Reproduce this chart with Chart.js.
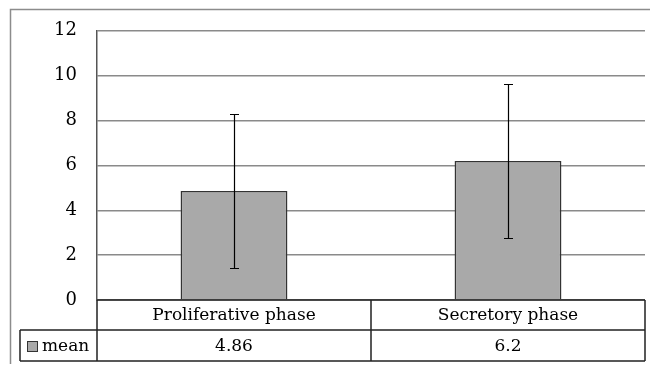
<!DOCTYPE html>
<html>
<head>
<meta charset="utf-8">
<script src="https://cdn.jsdelivr.net/npm/chart.js@4"></script>
<style>
  html, body { margin: 0; padding: 0; background: #fff; }
  #wrap { width: 650px; height: 367px; position: relative; }
</style>
</head>
<body>
<div id="wrap"><canvas id="chartMean" width="650" height="367"></canvas></div>
<script>
// valores
const categories = ['Proliferative phase', 'Secretory phase'];
const seriesName = 'mean';
const meanValues = [4.86, 6.2];
const errorValues = [3.45, 3.45]; // barras de erro simétricas (±)
const yMin = 0;
const yMax = 12;
const yStep = 2;

const FONT = "'DejaVu Serif', serif";

// moldura, barras de erro e tabela de dados no estilo Excel
const extrasPlugin = {
  id: 'extras',
  afterDatasetsDraw(chart) {
    const { ctx, scales } = chart;
    const x = scales.x;
    const y = scales.y;

    // barras de erro
    ctx.save();
    ctx.strokeStyle = '#000';
    ctx.lineWidth = 1.2;
    meanValues.forEach((v, i) => {
      const cx = Math.round(x.getPixelForValue(i)) + 0.5;
      const top = Math.round(y.getPixelForValue(v + errorValues[i])) + 0.5;
      const bot = Math.round(y.getPixelForValue(v - errorValues[i])) + 0.5;
      ctx.beginPath();
      ctx.moveTo(cx, top);
      ctx.lineTo(cx, bot);
      ctx.moveTo(cx - 4.5, top);
      ctx.lineTo(cx + 4.5, top);
      ctx.moveTo(cx - 4.5, bot);
      ctx.lineTo(cx + 4.5, bot);
      ctx.stroke();
    });
    ctx.restore();
  },
  afterDraw(chart) {
    const { ctx, chartArea, scales } = chart;
    const x = scales.x;
    const left = chartArea.left;
    const right = chartArea.right;
    const base = chartArea.bottom;
    const row1 = base + 30;
    const row2 = base + 61;
    const keyLeft = 20;
    const mid = (x.getPixelForValue(0) + x.getPixelForValue(1)) / 2;

    ctx.save();
    // moldura externa
    ctx.strokeStyle = '#8c8c8c';
    ctx.lineWidth = 1.5;
    ctx.beginPath();
    ctx.moveTo(10.5, 364);
    ctx.lineTo(10.5, 9.5);
    ctx.lineTo(650, 9.5);
    ctx.stroke();

    // linhas da tabela
    ctx.strokeStyle = '#222';
    ctx.lineWidth = 1.5;
    ctx.beginPath();
    ctx.moveTo(left, base);
    ctx.lineTo(right, base);
    ctx.moveTo(keyLeft, row1);
    ctx.lineTo(right, row1);
    ctx.moveTo(keyLeft, row2);
    ctx.lineTo(right, row2);
    ctx.moveTo(keyLeft, row1);
    ctx.lineTo(keyLeft, row2);
    ctx.moveTo(left, base);
    ctx.lineTo(left, row2);
    ctx.moveTo(mid, base);
    ctx.lineTo(mid, row2);
    ctx.moveTo(right, base);
    ctx.lineTo(right, row2);
    ctx.stroke();

    // textos
    ctx.fillStyle = '#000';
    ctx.font = '17px ' + FONT;
    ctx.textAlign = 'center';
    ctx.textBaseline = 'middle';
    categories.forEach((c, i) => {
      const cx = x.getPixelForValue(i);
      ctx.fillText(c, cx, (base + row1) / 2 + 1);
      ctx.fillText(String(meanValues[i]), cx, (row1 + row2) / 2 + 1);
    });

    // legenda da série
    ctx.fillStyle = '#a9a9a9';
    ctx.fillRect(27, row1 + 11, 11, 11);
    ctx.strokeStyle = '#333';
    ctx.lineWidth = 1;
    ctx.strokeRect(27.5, row1 + 11.5, 10, 10);
    ctx.fillStyle = '#000';
    ctx.textAlign = 'left';
    ctx.fillText(seriesName, 42, (row1 + row2) / 2 + 1);
    ctx.restore();
  },
};

new Chart(document.getElementById('chartMean'), {
  type: 'bar',
  data: {
    labels: categories,
    datasets: [{
      label: seriesName,
      data: meanValues,
      backgroundColor: '#a9a9a9',
      borderColor: '#333333',
      borderWidth: 1.5,
      categoryPercentage: 1,
      barPercentage: 0.39,
    }],
  },
  options: {
    responsive: false,
    animation: false,
    maintainAspectRatio: false,
    layout: { padding: { left: 10, right: 5, top: 26, bottom: 67 } },
    plugins: {
      legend: { display: false },
      tooltip: { enabled: false },
    },
    scales: {
      x: { display: false },
      y: {
        min: yMin,
        max: yMax,
        ticks: {
          stepSize: yStep,
          color: '#000',
          padding: 20,
          font: { family: FONT, size: 18 },
        },
        grid: { color: '#8a8a8a', lineWidth: 1.5, drawTicks: false },
        border: { display: true, color: '#555', width: 1.5 },
        afterFit: (scale) => { scale.width = 87; },
      },
    },
  },
  plugins: [extrasPlugin],
});
</script>
</body>
</html>
